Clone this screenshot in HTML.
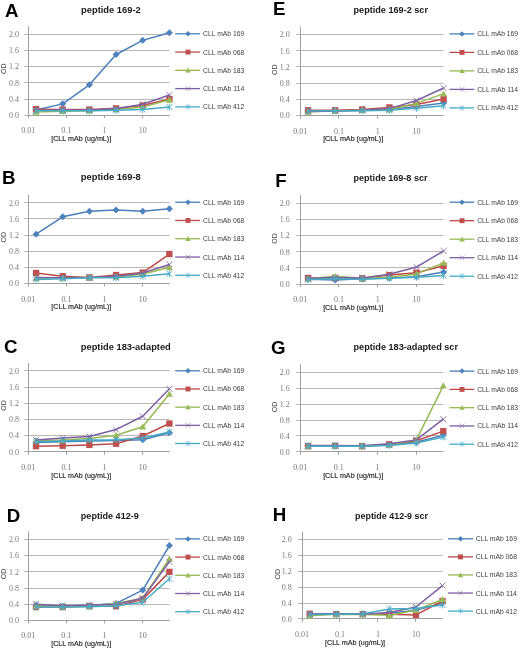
<!DOCTYPE html>
<html><head><meta charset="utf-8"><style>
html,body{margin:0;padding:0;background:#fff;}
body{width:520px;height:648px;overflow:hidden;}
svg{display:block;filter:blur(0.3px);}
.let{font-family:"Liberation Sans",sans-serif;font-weight:bold;font-size:18.7px;fill:#000;}
.ttl{font-family:"Liberation Sans",sans-serif;font-weight:bold;font-size:9px;fill:#1a1a1a;}
.tick{font-family:"Liberation Serif",serif;font-size:8px;fill:#7a7a7a;}
.xt{font-family:"Liberation Sans",sans-serif;font-size:8.0px;fill:#222;stroke:#222;stroke-width:0.15px;}
.leg{font-family:"Liberation Sans",sans-serif;font-size:7.6px;fill:#3c3c3c;}
.od{font-family:"Liberation Sans",sans-serif;font-size:7.4px;fill:#444;}
</style></head><body>
<svg width="520" height="648" viewBox="0 0 520 648">
<rect width="520" height="648" fill="#fff"/>
<text x="5" y="16.9" class="let">A</text>
<text x="81" y="12.9" class="ttl" textLength="59.8" lengthAdjust="spacingAndGlyphs">peptide 169-2</text>
<path d="M24.2 115.5H169.4M24.2 99.5H169.4M24.2 82.5H169.4M24.2 66.5H169.4M24.2 50.5H169.4M24.2 34.5H169.4" stroke="#b8b5b5" stroke-width="1" fill="none"/>
<path d="M28.5 26.21V118.2M28.2 115.5H169.4" stroke="#a0a0a0" stroke-width="1" fill="none"/>
<path d="M66.5 115.2V118.2M104.5 115.2V118.2M142.5 115.2V118.2" stroke="#a0a0a0" stroke-width="1" fill="none"/>
<text x="18.9" y="118" class="tick" text-anchor="end">0.0</text>
<text x="18.9" y="101.82" class="tick" text-anchor="end">0.4</text>
<text x="18.9" y="85.64" class="tick" text-anchor="end">0.8</text>
<text x="18.9" y="69.46" class="tick" text-anchor="end">1.2</text>
<text x="18.9" y="53.28" class="tick" text-anchor="end">1.6</text>
<text x="18.9" y="37.1" class="tick" text-anchor="end">2.0</text>
<text x="28.2" y="133.2" class="tick" text-anchor="middle">0.01</text>
<text x="66.37" y="133.2" class="tick" text-anchor="middle">0.1</text>
<text x="104.55" y="133.2" class="tick" text-anchor="middle">1</text>
<text x="142.72" y="133.2" class="tick" text-anchor="middle">10</text>
<text x="81.2" y="141.1" class="xt" text-anchor="middle" textLength="60" lengthAdjust="spacingAndGlyphs">[CLL mAb (ug/mL)]</text>
<text transform="translate(6.3 68.8) rotate(-90)" class="od" text-anchor="middle" textLength="10.4" lengthAdjust="spacingAndGlyphs">OD</text>
<path d="M35.99 109.94L62.67 103.87L89.36 84.86L116.04 54.52L142.72 40.37L169.4 32.68" stroke="#4a7ebb" stroke-width="1.5" fill="none" stroke-linejoin="round"/>
<path d="M35.99 106.44L39.49 109.94L35.99 113.44L32.49 109.94Z" fill="#4f81bd"/>
<path d="M62.67 100.37L66.17 103.87L62.67 107.37L59.17 103.87Z" fill="#4f81bd"/>
<path d="M89.36 81.36L92.86 84.86L89.36 88.36L85.86 84.86Z" fill="#4f81bd"/>
<path d="M116.04 51.02L119.54 54.52L116.04 58.02L112.54 54.52Z" fill="#4f81bd"/>
<path d="M142.72 36.87L146.22 40.37L142.72 43.87L139.22 40.37Z" fill="#4f81bd"/>
<path d="M169.4 29.18L172.9 32.68L169.4 36.18L165.9 32.68Z" fill="#4f81bd"/>
<path d="M35.99 109.13L62.67 109.54L89.36 109.54L116.04 108.32L142.72 105.49L169.4 99.02" stroke="#be4b48" stroke-width="1.5" fill="none" stroke-linejoin="round"/>
<rect x="32.84" y="105.98" width="6.3" height="6.3" fill="#c0504d"/>
<rect x="59.52" y="106.39" width="6.3" height="6.3" fill="#c0504d"/>
<rect x="86.21" y="106.39" width="6.3" height="6.3" fill="#c0504d"/>
<rect x="112.89" y="105.17" width="6.3" height="6.3" fill="#c0504d"/>
<rect x="139.57" y="102.34" width="6.3" height="6.3" fill="#c0504d"/>
<rect x="166.25" y="95.87" width="6.3" height="6.3" fill="#c0504d"/>
<path d="M35.99 111.96L62.67 111.16L89.36 110.75L116.04 109.54L142.72 107.11L169.4 99.83" stroke="#98b954" stroke-width="1.5" fill="none" stroke-linejoin="round"/>
<path d="M35.99 108.46L39.49 114.76L32.49 114.76Z" fill="#9bbb59"/>
<path d="M62.67 107.66L66.17 113.95L59.17 113.95Z" fill="#9bbb59"/>
<path d="M89.36 107.25L92.86 113.55L85.86 113.55Z" fill="#9bbb59"/>
<path d="M116.04 106.04L119.54 112.34L112.54 112.34Z" fill="#9bbb59"/>
<path d="M142.72 103.61L146.22 109.91L139.22 109.91Z" fill="#9bbb59"/>
<path d="M169.4 96.33L172.9 102.63L165.9 102.63Z" fill="#9bbb59"/>
<path d="M35.99 110.35L62.67 109.94L89.36 109.94L116.04 108.73L142.72 104.28L169.4 94.97" stroke="#7d60a0" stroke-width="1.5" fill="none" stroke-linejoin="round"/>
<path d="M33.02 107.37L38.97 113.32M38.97 107.37L33.02 113.32" stroke="#8064a2" stroke-width="0.9" fill="none"/>
<path d="M59.7 106.97L65.65 112.92M65.65 106.97L59.7 112.92" stroke="#8064a2" stroke-width="0.9" fill="none"/>
<path d="M86.38 106.97L92.33 112.92M92.33 106.97L86.38 112.92" stroke="#8064a2" stroke-width="0.9" fill="none"/>
<path d="M113.06 105.75L119.01 111.7M119.01 105.75L113.06 111.7" stroke="#8064a2" stroke-width="0.9" fill="none"/>
<path d="M139.74 101.3L145.69 107.25M145.69 101.3L139.74 107.25" stroke="#8064a2" stroke-width="0.9" fill="none"/>
<path d="M166.43 92L172.38 97.95M172.38 92L166.43 97.95" stroke="#8064a2" stroke-width="0.9" fill="none"/>
<path d="M35.99 110.75L62.67 110.75L89.36 110.75L116.04 110.35L142.72 109.54L169.4 107.11" stroke="#46aac5" stroke-width="1.5" fill="none" stroke-linejoin="round"/>
<path d="M33.02 107.78L38.97 113.73M38.97 107.78L33.02 113.73M35.99 107.25L35.99 114.25" stroke="#4bacc6" stroke-width="0.9" fill="none"/>
<path d="M59.7 107.78L65.65 113.73M65.65 107.78L59.7 113.73M62.67 107.25L62.67 114.25" stroke="#4bacc6" stroke-width="0.9" fill="none"/>
<path d="M86.38 107.78L92.33 113.73M92.33 107.78L86.38 113.73M89.36 107.25L89.36 114.25" stroke="#4bacc6" stroke-width="0.9" fill="none"/>
<path d="M113.06 107.37L119.01 113.32M119.01 107.37L113.06 113.32M116.04 106.85L116.04 113.85" stroke="#4bacc6" stroke-width="0.9" fill="none"/>
<path d="M139.74 106.56L145.69 112.51M145.69 106.56L139.74 112.51M142.72 106.04L142.72 113.04" stroke="#4bacc6" stroke-width="0.9" fill="none"/>
<path d="M166.43 104.14L172.38 110.08M172.38 104.14L166.43 110.08M169.4 103.61L169.4 110.61" stroke="#4bacc6" stroke-width="0.9" fill="none"/>
<path d="M175.2 33.8H200.1" stroke="#4a7ebb" stroke-width="1.3" fill="none"/>
<path d="M188 31.05L190.75 33.8L188 36.55L185.25 33.8Z" fill="#4f81bd"/>
<text x="203.1" y="36.3" class="leg" textLength="41.1" lengthAdjust="spacingAndGlyphs">CLL mAb 169</text>
<path d="M175.2 52.07H200.1" stroke="#be4b48" stroke-width="1.3" fill="none"/>
<rect x="185.53" y="49.59" width="4.95" height="4.95" fill="#c0504d"/>
<text x="203.1" y="54.57" class="leg" textLength="41.1" lengthAdjust="spacingAndGlyphs">CLL mAb 068</text>
<path d="M175.2 70.34H200.1" stroke="#98b954" stroke-width="1.3" fill="none"/>
<path d="M188 67.59L190.75 72.54L185.25 72.54Z" fill="#9bbb59"/>
<text x="203.1" y="72.84" class="leg" textLength="41.1" lengthAdjust="spacingAndGlyphs">CLL mAb 183</text>
<path d="M175.2 88.61H200.1" stroke="#7d60a0" stroke-width="1.3" fill="none"/>
<path d="M185.66 86.27L190.34 90.95M190.34 86.27L185.66 90.95" stroke="#8064a2" stroke-width="0.6" fill="none"/>
<text x="203.1" y="91.11" class="leg" textLength="41.1" lengthAdjust="spacingAndGlyphs">CLL mAb 114</text>
<path d="M175.2 106.88H200.1" stroke="#46aac5" stroke-width="1.3" fill="none"/>
<path d="M185.66 104.54L190.34 109.22M190.34 104.54L185.66 109.22M188 104.13L188 109.63" stroke="#4bacc6" stroke-width="0.6" fill="none"/>
<text x="203.1" y="109.38" class="leg" textLength="41.1" lengthAdjust="spacingAndGlyphs">CLL mAb 412</text>
<text x="1.9" y="184.4" class="let">B</text>
<text x="80.8" y="180.4" class="ttl" textLength="60" lengthAdjust="spacingAndGlyphs">peptide 169-8</text>
<path d="M24.3 283.5H169.4M24.3 267.5H169.4M24.3 251.5H169.4M24.3 235.5H169.4M24.3 218.5H169.4M24.3 202.5H169.4" stroke="#b8b5b5" stroke-width="1" fill="none"/>
<path d="M28.5 194.62V286.5M28.3 283.5H169.4" stroke="#a0a0a0" stroke-width="1" fill="none"/>
<path d="M66.5 283.5V286.5M104.5 283.5V286.5M142.5 283.5V286.5" stroke="#a0a0a0" stroke-width="1" fill="none"/>
<text x="19" y="286.3" class="tick" text-anchor="end">0.0</text>
<text x="19" y="270.14" class="tick" text-anchor="end">0.4</text>
<text x="19" y="253.98" class="tick" text-anchor="end">0.8</text>
<text x="19" y="237.82" class="tick" text-anchor="end">1.2</text>
<text x="19" y="221.66" class="tick" text-anchor="end">1.6</text>
<text x="19" y="205.5" class="tick" text-anchor="end">2.0</text>
<text x="28.3" y="301.5" class="tick" text-anchor="middle">0.01</text>
<text x="66.45" y="301.5" class="tick" text-anchor="middle">0.1</text>
<text x="104.59" y="301.5" class="tick" text-anchor="middle">1</text>
<text x="142.74" y="301.5" class="tick" text-anchor="middle">10</text>
<text x="81.3" y="309.4" class="xt" text-anchor="middle" textLength="60" lengthAdjust="spacingAndGlyphs">[CLL mAb (ug/mL)]</text>
<text transform="translate(6.4 237.2) rotate(-90)" class="od" text-anchor="middle" textLength="10.4" lengthAdjust="spacingAndGlyphs">OD</text>
<path d="M36.09 234.21L62.75 216.84L89.41 211.18L116.07 209.97L142.74 211.18L169.4 208.76" stroke="#4a7ebb" stroke-width="1.5" fill="none" stroke-linejoin="round"/>
<path d="M36.09 230.71L39.59 234.21L36.09 237.71L32.59 234.21Z" fill="#4f81bd"/>
<path d="M62.75 213.34L66.25 216.84L62.75 220.34L59.25 216.84Z" fill="#4f81bd"/>
<path d="M89.41 207.68L92.91 211.18L89.41 214.68L85.91 211.18Z" fill="#4f81bd"/>
<path d="M116.07 206.47L119.57 209.97L116.07 213.47L112.57 209.97Z" fill="#4f81bd"/>
<path d="M142.74 207.68L146.24 211.18L142.74 214.68L139.24 211.18Z" fill="#4f81bd"/>
<path d="M169.4 205.26L172.9 208.76L169.4 212.26L165.9 208.76Z" fill="#4f81bd"/>
<path d="M36.09 273L62.75 276.23L89.41 277.44L116.07 275.02L142.74 272.59L169.4 254.01" stroke="#be4b48" stroke-width="1.5" fill="none" stroke-linejoin="round"/>
<rect x="32.94" y="269.85" width="6.3" height="6.3" fill="#c0504d"/>
<rect x="59.6" y="273.08" width="6.3" height="6.3" fill="#c0504d"/>
<rect x="86.26" y="274.29" width="6.3" height="6.3" fill="#c0504d"/>
<rect x="112.92" y="271.87" width="6.3" height="6.3" fill="#c0504d"/>
<rect x="139.59" y="269.44" width="6.3" height="6.3" fill="#c0504d"/>
<rect x="166.25" y="250.86" width="6.3" height="6.3" fill="#c0504d"/>
<path d="M36.09 278.25L62.75 277.84L89.41 277.44L116.07 277.04L142.74 274.21L169.4 267.34" stroke="#98b954" stroke-width="1.5" fill="none" stroke-linejoin="round"/>
<path d="M36.09 274.75L39.59 281.05L32.59 281.05Z" fill="#9bbb59"/>
<path d="M62.75 274.34L66.25 280.64L59.25 280.64Z" fill="#9bbb59"/>
<path d="M89.41 273.94L92.91 280.24L85.91 280.24Z" fill="#9bbb59"/>
<path d="M116.07 273.54L119.57 279.84L112.57 279.84Z" fill="#9bbb59"/>
<path d="M142.74 270.71L146.24 277.01L139.24 277.01Z" fill="#9bbb59"/>
<path d="M169.4 263.84L172.9 270.14L165.9 270.14Z" fill="#9bbb59"/>
<path d="M36.09 277.44L62.75 277.84L89.41 277.44L116.07 276.23L142.74 273L169.4 264.51" stroke="#7d60a0" stroke-width="1.5" fill="none" stroke-linejoin="round"/>
<path d="M33.11 274.46L39.06 280.42M39.06 274.46L33.11 280.42" stroke="#8064a2" stroke-width="0.9" fill="none"/>
<path d="M59.77 274.87L65.72 280.82M65.72 274.87L59.77 280.82" stroke="#8064a2" stroke-width="0.9" fill="none"/>
<path d="M86.44 274.46L92.39 280.42M92.39 274.46L86.44 280.42" stroke="#8064a2" stroke-width="0.9" fill="none"/>
<path d="M113.1 273.25L119.05 279.2M119.05 273.25L113.1 279.2" stroke="#8064a2" stroke-width="0.9" fill="none"/>
<path d="M139.76 270.02L145.71 275.97M145.71 270.02L139.76 275.97" stroke="#8064a2" stroke-width="0.9" fill="none"/>
<path d="M166.43 261.54L172.38 267.49M172.38 261.54L166.43 267.49" stroke="#8064a2" stroke-width="0.9" fill="none"/>
<path d="M36.09 279.46L62.75 278.65L89.41 277.84L116.07 277.84L142.74 276.23L169.4 273.8" stroke="#46aac5" stroke-width="1.5" fill="none" stroke-linejoin="round"/>
<path d="M33.11 276.48L39.06 282.44M39.06 276.48L33.11 282.44M36.09 275.96L36.09 282.96" stroke="#4bacc6" stroke-width="0.9" fill="none"/>
<path d="M59.77 275.68L65.72 281.63M65.72 275.68L59.77 281.63M62.75 275.15L62.75 282.15" stroke="#4bacc6" stroke-width="0.9" fill="none"/>
<path d="M86.44 274.87L92.39 280.82M92.39 274.87L86.44 280.82M89.41 274.34L89.41 281.34" stroke="#4bacc6" stroke-width="0.9" fill="none"/>
<path d="M113.1 274.87L119.05 280.82M119.05 274.87L113.1 280.82M116.07 274.34L116.07 281.34" stroke="#4bacc6" stroke-width="0.9" fill="none"/>
<path d="M139.76 273.25L145.71 279.2M145.71 273.25L139.76 279.2M142.74 272.73L142.74 279.73" stroke="#4bacc6" stroke-width="0.9" fill="none"/>
<path d="M166.43 270.83L172.38 276.78M172.38 270.83L166.43 276.78M169.4 270.3L169.4 277.3" stroke="#4bacc6" stroke-width="0.9" fill="none"/>
<path d="M175.2 202.2H200.1" stroke="#4a7ebb" stroke-width="1.3" fill="none"/>
<path d="M188 199.45L190.75 202.2L188 204.95L185.25 202.2Z" fill="#4f81bd"/>
<text x="203.1" y="204.7" class="leg" textLength="41.1" lengthAdjust="spacingAndGlyphs">CLL mAb 169</text>
<path d="M175.2 220.48H200.1" stroke="#be4b48" stroke-width="1.3" fill="none"/>
<rect x="185.53" y="218" width="4.95" height="4.95" fill="#c0504d"/>
<text x="203.1" y="222.98" class="leg" textLength="41.1" lengthAdjust="spacingAndGlyphs">CLL mAb 068</text>
<path d="M175.2 238.76H200.1" stroke="#98b954" stroke-width="1.3" fill="none"/>
<path d="M188 236.01L190.75 240.96L185.25 240.96Z" fill="#9bbb59"/>
<text x="203.1" y="241.26" class="leg" textLength="41.1" lengthAdjust="spacingAndGlyphs">CLL mAb 183</text>
<path d="M175.2 257.04H200.1" stroke="#7d60a0" stroke-width="1.3" fill="none"/>
<path d="M185.66 254.7L190.34 259.38M190.34 254.7L185.66 259.38" stroke="#8064a2" stroke-width="0.6" fill="none"/>
<text x="203.1" y="259.54" class="leg" textLength="41.1" lengthAdjust="spacingAndGlyphs">CLL mAb 114</text>
<path d="M175.2 275.32H200.1" stroke="#46aac5" stroke-width="1.3" fill="none"/>
<path d="M185.66 272.98L190.34 277.66M190.34 272.98L185.66 277.66M188 272.57L188 278.07" stroke="#4bacc6" stroke-width="0.6" fill="none"/>
<text x="203.1" y="277.82" class="leg" textLength="41.1" lengthAdjust="spacingAndGlyphs">CLL mAb 412</text>
<text x="4" y="353.3" class="let">C</text>
<text x="80.8" y="349.7" class="ttl" textLength="90" lengthAdjust="spacingAndGlyphs">peptide 183-adapted</text>
<path d="M24.25 451.5H169.4M24.25 435.5H169.4M24.25 419.5H169.4M24.25 403.5H169.4M24.25 387.5H169.4M24.25 370.5H169.4" stroke="#b8b5b5" stroke-width="1" fill="none"/>
<path d="M28.5 362.92V454.8M28.25 451.5H169.4" stroke="#a0a0a0" stroke-width="1" fill="none"/>
<path d="M66.5 451.8V454.8M104.5 451.8V454.8M142.5 451.8V454.8" stroke="#a0a0a0" stroke-width="1" fill="none"/>
<text x="18.95" y="454.6" class="tick" text-anchor="end">0.0</text>
<text x="18.95" y="438.44" class="tick" text-anchor="end">0.4</text>
<text x="18.95" y="422.28" class="tick" text-anchor="end">0.8</text>
<text x="18.95" y="406.12" class="tick" text-anchor="end">1.2</text>
<text x="18.95" y="389.96" class="tick" text-anchor="end">1.6</text>
<text x="18.95" y="373.8" class="tick" text-anchor="end">2.0</text>
<text x="28.25" y="469.8" class="tick" text-anchor="middle">0.01</text>
<text x="66.41" y="469.8" class="tick" text-anchor="middle">0.1</text>
<text x="104.57" y="469.8" class="tick" text-anchor="middle">1</text>
<text x="142.73" y="469.8" class="tick" text-anchor="middle">10</text>
<text x="81.25" y="477.7" class="xt" text-anchor="middle" textLength="60" lengthAdjust="spacingAndGlyphs">[CLL mAb (ug/mL)]</text>
<text transform="translate(6.35 405.5) rotate(-90)" class="od" text-anchor="middle" textLength="10.4" lengthAdjust="spacingAndGlyphs">OD</text>
<path d="M36.04 442.51L62.71 441.7L89.38 440.89L116.06 440.49L142.73 439.68L169.4 432.81" stroke="#4a7ebb" stroke-width="1.5" fill="none" stroke-linejoin="round"/>
<path d="M36.04 439.01L39.54 442.51L36.04 446.01L32.54 442.51Z" fill="#4f81bd"/>
<path d="M62.71 438.2L66.21 441.7L62.71 445.2L59.21 441.7Z" fill="#4f81bd"/>
<path d="M89.38 437.39L92.88 440.89L89.38 444.39L85.88 440.89Z" fill="#4f81bd"/>
<path d="M116.06 436.99L119.56 440.49L116.06 443.99L112.56 440.49Z" fill="#4f81bd"/>
<path d="M142.73 436.18L146.23 439.68L142.73 443.18L139.23 439.68Z" fill="#4f81bd"/>
<path d="M169.4 429.31L172.9 432.81L169.4 436.31L165.9 432.81Z" fill="#4f81bd"/>
<path d="M36.04 446.14L62.71 445.74L89.38 444.93L116.06 443.72L142.73 436.04L169.4 423.52" stroke="#be4b48" stroke-width="1.5" fill="none" stroke-linejoin="round"/>
<rect x="32.89" y="442.99" width="6.3" height="6.3" fill="#c0504d"/>
<rect x="59.56" y="442.59" width="6.3" height="6.3" fill="#c0504d"/>
<rect x="86.23" y="441.78" width="6.3" height="6.3" fill="#c0504d"/>
<rect x="112.91" y="440.57" width="6.3" height="6.3" fill="#c0504d"/>
<rect x="139.58" y="432.89" width="6.3" height="6.3" fill="#c0504d"/>
<rect x="166.25" y="420.37" width="6.3" height="6.3" fill="#c0504d"/>
<path d="M36.04 440.49L62.71 440.08L89.38 438.47L116.06 435.24L142.73 426.75L169.4 394.03" stroke="#98b954" stroke-width="1.5" fill="none" stroke-linejoin="round"/>
<path d="M36.04 436.99L39.54 443.29L32.54 443.29Z" fill="#9bbb59"/>
<path d="M62.71 436.58L66.21 442.88L59.21 442.88Z" fill="#9bbb59"/>
<path d="M89.38 434.97L92.88 441.27L85.88 441.27Z" fill="#9bbb59"/>
<path d="M116.06 431.74L119.56 438.04L112.56 438.04Z" fill="#9bbb59"/>
<path d="M142.73 423.25L146.23 429.55L139.23 429.55Z" fill="#9bbb59"/>
<path d="M169.4 390.53L172.9 396.83L165.9 396.83Z" fill="#9bbb59"/>
<path d="M36.04 440.08L62.71 438.06L89.38 436.45L116.06 429.58L142.73 416.25L169.4 388.78" stroke="#7d60a0" stroke-width="1.5" fill="none" stroke-linejoin="round"/>
<path d="M33.06 437.11L39.01 443.06M39.01 437.11L33.06 443.06" stroke="#8064a2" stroke-width="0.9" fill="none"/>
<path d="M59.74 435.09L65.69 441.04M65.69 435.09L59.74 441.04" stroke="#8064a2" stroke-width="0.9" fill="none"/>
<path d="M86.41 433.47L92.36 439.42M92.36 433.47L86.41 439.42" stroke="#8064a2" stroke-width="0.9" fill="none"/>
<path d="M113.08 426.6L119.03 432.56M119.03 426.6L113.08 432.56" stroke="#8064a2" stroke-width="0.9" fill="none"/>
<path d="M139.75 413.27L145.7 419.22M145.7 413.27L139.75 419.22" stroke="#8064a2" stroke-width="0.9" fill="none"/>
<path d="M166.43 385.8L172.38 391.75M172.38 385.8L166.43 391.75" stroke="#8064a2" stroke-width="0.9" fill="none"/>
<path d="M36.04 441.7L62.71 440.89L89.38 440.08L116.06 439.68L142.73 438.06L169.4 432" stroke="#46aac5" stroke-width="1.5" fill="none" stroke-linejoin="round"/>
<path d="M33.06 438.72L39.01 444.68M39.01 438.72L33.06 444.68M36.04 438.2L36.04 445.2" stroke="#4bacc6" stroke-width="0.9" fill="none"/>
<path d="M59.74 437.92L65.69 443.87M65.69 437.92L59.74 443.87M62.71 437.39L62.71 444.39" stroke="#4bacc6" stroke-width="0.9" fill="none"/>
<path d="M86.41 437.11L92.36 443.06M92.36 437.11L86.41 443.06M89.38 436.58L89.38 443.58" stroke="#4bacc6" stroke-width="0.9" fill="none"/>
<path d="M113.08 436.7L119.03 442.66M119.03 436.7L113.08 442.66M116.06 436.18L116.06 443.18" stroke="#4bacc6" stroke-width="0.9" fill="none"/>
<path d="M139.75 435.09L145.7 441.04M145.7 435.09L139.75 441.04M142.73 434.56L142.73 441.56" stroke="#4bacc6" stroke-width="0.9" fill="none"/>
<path d="M166.43 429.03L172.38 434.98M172.38 429.03L166.43 434.98M169.4 428.5L169.4 435.5" stroke="#4bacc6" stroke-width="0.9" fill="none"/>
<path d="M175.2 370.8H200.1" stroke="#4a7ebb" stroke-width="1.3" fill="none"/>
<path d="M188 368.05L190.75 370.8L188 373.55L185.25 370.8Z" fill="#4f81bd"/>
<text x="203.1" y="373.3" class="leg" textLength="41.1" lengthAdjust="spacingAndGlyphs">CLL mAb 169</text>
<path d="M175.2 388.98H200.1" stroke="#be4b48" stroke-width="1.3" fill="none"/>
<rect x="185.53" y="386.5" width="4.95" height="4.95" fill="#c0504d"/>
<text x="203.1" y="391.48" class="leg" textLength="41.1" lengthAdjust="spacingAndGlyphs">CLL mAb 068</text>
<path d="M175.2 407.16H200.1" stroke="#98b954" stroke-width="1.3" fill="none"/>
<path d="M188 404.41L190.75 409.36L185.25 409.36Z" fill="#9bbb59"/>
<text x="203.1" y="409.66" class="leg" textLength="41.1" lengthAdjust="spacingAndGlyphs">CLL mAb 183</text>
<path d="M175.2 425.34H200.1" stroke="#7d60a0" stroke-width="1.3" fill="none"/>
<path d="M185.66 423L190.34 427.68M190.34 423L185.66 427.68" stroke="#8064a2" stroke-width="0.6" fill="none"/>
<text x="203.1" y="427.84" class="leg" textLength="41.1" lengthAdjust="spacingAndGlyphs">CLL mAb 114</text>
<path d="M175.2 443.52H200.1" stroke="#46aac5" stroke-width="1.3" fill="none"/>
<path d="M185.66 441.18L190.34 445.86M190.34 441.18L185.66 445.86M188 440.77L188 446.27" stroke="#4bacc6" stroke-width="0.6" fill="none"/>
<text x="203.1" y="446.02" class="leg" textLength="41.1" lengthAdjust="spacingAndGlyphs">CLL mAb 412</text>
<text x="6.8" y="522.3" class="let">D</text>
<text x="80.8" y="519.4" class="ttl" textLength="58" lengthAdjust="spacingAndGlyphs">peptide 412-9</text>
<path d="M24.2 620.5H169.4M24.2 604.5H169.4M24.2 588.5H169.4M24.2 571.5H169.4M24.2 555.5H169.4M24.2 539.5H169.4" stroke="#b8b5b5" stroke-width="1" fill="none"/>
<path d="M28.5 531.41V623.4M28.2 620.5H169.4" stroke="#a0a0a0" stroke-width="1" fill="none"/>
<path d="M66.5 620.4V623.4M104.5 620.4V623.4M142.5 620.4V623.4" stroke="#a0a0a0" stroke-width="1" fill="none"/>
<text x="18.9" y="623.2" class="tick" text-anchor="end">0.0</text>
<text x="18.9" y="607.02" class="tick" text-anchor="end">0.4</text>
<text x="18.9" y="590.84" class="tick" text-anchor="end">0.8</text>
<text x="18.9" y="574.66" class="tick" text-anchor="end">1.2</text>
<text x="18.9" y="558.48" class="tick" text-anchor="end">1.6</text>
<text x="18.9" y="542.3" class="tick" text-anchor="end">2.0</text>
<text x="28.2" y="638.4" class="tick" text-anchor="middle">0.01</text>
<text x="66.37" y="638.4" class="tick" text-anchor="middle">0.1</text>
<text x="104.55" y="638.4" class="tick" text-anchor="middle">1</text>
<text x="142.72" y="638.4" class="tick" text-anchor="middle">10</text>
<text x="81.2" y="646.3" class="xt" text-anchor="middle" textLength="60" lengthAdjust="spacingAndGlyphs">[CLL mAb (ug/mL)]</text>
<text transform="translate(6.3 574) rotate(-90)" class="od" text-anchor="middle" textLength="10.4" lengthAdjust="spacingAndGlyphs">OD</text>
<path d="M35.99 605.03L62.67 606.24L89.36 605.43L116.04 603.41L142.72 590.06L169.4 545.57" stroke="#4a7ebb" stroke-width="1.5" fill="none" stroke-linejoin="round"/>
<path d="M35.99 601.53L39.49 605.03L35.99 608.53L32.49 605.03Z" fill="#4f81bd"/>
<path d="M62.67 602.74L66.17 606.24L62.67 609.74L59.17 606.24Z" fill="#4f81bd"/>
<path d="M89.36 601.93L92.86 605.43L89.36 608.93L85.86 605.43Z" fill="#4f81bd"/>
<path d="M116.04 599.91L119.54 603.41L116.04 606.91L112.54 603.41Z" fill="#4f81bd"/>
<path d="M142.72 586.56L146.22 590.06L142.72 593.56L139.22 590.06Z" fill="#4f81bd"/>
<path d="M169.4 542.07L172.9 545.57L169.4 549.07L165.9 545.57Z" fill="#4f81bd"/>
<path d="M35.99 607.05L62.67 607.05L89.36 606.24L116.04 606.24L142.72 599.37L169.4 571.86" stroke="#be4b48" stroke-width="1.5" fill="none" stroke-linejoin="round"/>
<rect x="32.84" y="603.9" width="6.3" height="6.3" fill="#c0504d"/>
<rect x="59.52" y="603.9" width="6.3" height="6.3" fill="#c0504d"/>
<rect x="86.21" y="603.09" width="6.3" height="6.3" fill="#c0504d"/>
<rect x="112.89" y="603.09" width="6.3" height="6.3" fill="#c0504d"/>
<rect x="139.57" y="596.22" width="6.3" height="6.3" fill="#c0504d"/>
<rect x="166.25" y="568.71" width="6.3" height="6.3" fill="#c0504d"/>
<path d="M35.99 605.84L62.67 606.65L89.36 605.84L116.04 603.41L142.72 598.15L169.4 558.92" stroke="#98b954" stroke-width="1.5" fill="none" stroke-linejoin="round"/>
<path d="M35.99 602.34L39.49 608.64L32.49 608.64Z" fill="#9bbb59"/>
<path d="M62.67 603.15L66.17 609.45L59.17 609.45Z" fill="#9bbb59"/>
<path d="M89.36 602.34L92.86 608.64L85.86 608.64Z" fill="#9bbb59"/>
<path d="M116.04 599.91L119.54 606.21L112.54 606.21Z" fill="#9bbb59"/>
<path d="M142.72 594.65L146.22 600.95L139.22 600.95Z" fill="#9bbb59"/>
<path d="M169.4 555.42L172.9 561.72L165.9 561.72Z" fill="#9bbb59"/>
<path d="M35.99 604.22L62.67 605.84L89.36 605.03L116.04 604.22L142.72 598.15L169.4 561.75" stroke="#7d60a0" stroke-width="1.5" fill="none" stroke-linejoin="round"/>
<path d="M33.02 601.25L38.97 607.2M38.97 601.25L33.02 607.2" stroke="#8064a2" stroke-width="0.9" fill="none"/>
<path d="M59.7 602.86L65.65 608.81M65.65 602.86L59.7 608.81" stroke="#8064a2" stroke-width="0.9" fill="none"/>
<path d="M86.38 602.05L92.33 608M92.33 602.05L86.38 608" stroke="#8064a2" stroke-width="0.9" fill="none"/>
<path d="M113.06 601.25L119.01 607.2M119.01 601.25L113.06 607.2" stroke="#8064a2" stroke-width="0.9" fill="none"/>
<path d="M139.74 595.18L145.69 601.13M145.69 595.18L139.74 601.13" stroke="#8064a2" stroke-width="0.9" fill="none"/>
<path d="M166.43 558.77L172.38 564.72M172.38 558.77L166.43 564.72" stroke="#8064a2" stroke-width="0.9" fill="none"/>
<path d="M35.99 607.05L62.67 607.05L89.36 606.65L116.04 605.84L142.72 602.2L169.4 578.74" stroke="#46aac5" stroke-width="1.5" fill="none" stroke-linejoin="round"/>
<path d="M33.02 604.08L38.97 610.03M38.97 604.08L33.02 610.03M35.99 603.55L35.99 610.55" stroke="#4bacc6" stroke-width="0.9" fill="none"/>
<path d="M59.7 604.08L65.65 610.03M65.65 604.08L59.7 610.03M62.67 603.55L62.67 610.55" stroke="#4bacc6" stroke-width="0.9" fill="none"/>
<path d="M86.38 603.67L92.33 609.62M92.33 603.67L86.38 609.62M89.36 603.15L89.36 610.15" stroke="#4bacc6" stroke-width="0.9" fill="none"/>
<path d="M113.06 602.86L119.01 608.81M119.01 602.86L113.06 608.81M116.04 602.34L116.04 609.34" stroke="#4bacc6" stroke-width="0.9" fill="none"/>
<path d="M139.74 599.22L145.69 605.17M145.69 599.22L139.74 605.17M142.72 598.7L142.72 605.7" stroke="#4bacc6" stroke-width="0.9" fill="none"/>
<path d="M166.43 575.76L172.38 581.71M172.38 575.76L166.43 581.71M169.4 575.24L169.4 582.24" stroke="#4bacc6" stroke-width="0.9" fill="none"/>
<path d="M175.2 538.9H200.1" stroke="#4a7ebb" stroke-width="1.3" fill="none"/>
<path d="M188 536.15L190.75 538.9L188 541.65L185.25 538.9Z" fill="#4f81bd"/>
<text x="203.1" y="541.4" class="leg" textLength="41.1" lengthAdjust="spacingAndGlyphs">CLL mAb 169</text>
<path d="M175.2 557.1H200.1" stroke="#be4b48" stroke-width="1.3" fill="none"/>
<rect x="185.53" y="554.62" width="4.95" height="4.95" fill="#c0504d"/>
<text x="203.1" y="559.6" class="leg" textLength="41.1" lengthAdjust="spacingAndGlyphs">CLL mAb 068</text>
<path d="M175.2 575.3H200.1" stroke="#98b954" stroke-width="1.3" fill="none"/>
<path d="M188 572.55L190.75 577.5L185.25 577.5Z" fill="#9bbb59"/>
<text x="203.1" y="577.8" class="leg" textLength="41.1" lengthAdjust="spacingAndGlyphs">CLL mAb 183</text>
<path d="M175.2 593.5H200.1" stroke="#7d60a0" stroke-width="1.3" fill="none"/>
<path d="M185.66 591.16L190.34 595.84M190.34 591.16L185.66 595.84" stroke="#8064a2" stroke-width="0.6" fill="none"/>
<text x="203.1" y="596" class="leg" textLength="41.1" lengthAdjust="spacingAndGlyphs">CLL mAb 114</text>
<path d="M175.2 611.7H200.1" stroke="#46aac5" stroke-width="1.3" fill="none"/>
<path d="M185.66 609.36L190.34 614.04M190.34 609.36L185.66 614.04M188 608.95L188 614.45" stroke="#4bacc6" stroke-width="0.6" fill="none"/>
<text x="203.1" y="614.2" class="leg" textLength="41.1" lengthAdjust="spacingAndGlyphs">CLL mAb 412</text>
<text x="273" y="14.6" class="let">E</text>
<text x="353.5" y="13.4" class="ttl" textLength="74.5" lengthAdjust="spacingAndGlyphs">peptide 169-2 scr</text>
<path d="M296.15 115.5H443.6M296.15 99.5H443.6M296.15 83.5H443.6M296.15 66.5H443.6M296.15 50.5H443.6M296.15 34.5H443.6" stroke="#b8b5b5" stroke-width="1" fill="none"/>
<path d="M300.5 26.51V118.5M300.15 115.5H443.6" stroke="#a0a0a0" stroke-width="1" fill="none"/>
<path d="M338.5 115.5V118.5M377.5 115.5V118.5M416.5 115.5V118.5" stroke="#a0a0a0" stroke-width="1" fill="none"/>
<text x="289.65" y="118.3" class="tick" text-anchor="end">0.0</text>
<text x="289.65" y="102.12" class="tick" text-anchor="end">0.4</text>
<text x="289.65" y="85.94" class="tick" text-anchor="end">0.8</text>
<text x="289.65" y="69.76" class="tick" text-anchor="end">1.2</text>
<text x="289.65" y="53.58" class="tick" text-anchor="end">1.6</text>
<text x="289.65" y="37.4" class="tick" text-anchor="end">2.0</text>
<text x="300.15" y="133.5" class="tick" text-anchor="middle">0.01</text>
<text x="338.93" y="133.5" class="tick" text-anchor="middle">0.1</text>
<text x="377.71" y="133.5" class="tick" text-anchor="middle">1</text>
<text x="416.49" y="133.5" class="tick" text-anchor="middle">10</text>
<text x="353.15" y="141.4" class="xt" text-anchor="middle" textLength="60" lengthAdjust="spacingAndGlyphs">[CLL mAb (ug/mL)]</text>
<text transform="translate(277.45 69.8) rotate(-90)" class="od" text-anchor="middle" textLength="10.4" lengthAdjust="spacingAndGlyphs">OD</text>
<path d="M308.07 110.65L335.17 110.65L362.28 110.24L389.39 109.43L416.49 106.6L443.6 102.96" stroke="#4a7ebb" stroke-width="1.5" fill="none" stroke-linejoin="round"/>
<path d="M308.07 107.15L311.57 110.65L308.07 114.15L304.57 110.65Z" fill="#4f81bd"/>
<path d="M335.17 107.15L338.67 110.65L335.17 114.15L331.67 110.65Z" fill="#4f81bd"/>
<path d="M362.28 106.74L365.78 110.24L362.28 113.74L358.78 110.24Z" fill="#4f81bd"/>
<path d="M389.39 105.93L392.89 109.43L389.39 112.93L385.89 109.43Z" fill="#4f81bd"/>
<path d="M416.49 103.1L419.99 106.6L416.49 110.1L412.99 106.6Z" fill="#4f81bd"/>
<path d="M443.6 99.46L447.1 102.96L443.6 106.46L440.1 102.96Z" fill="#4f81bd"/>
<path d="M308.07 110.24L335.17 110.24L362.28 109.43L389.39 107.41L416.49 104.58L443.6 98.92" stroke="#be4b48" stroke-width="1.5" fill="none" stroke-linejoin="round"/>
<rect x="304.92" y="107.09" width="6.3" height="6.3" fill="#c0504d"/>
<rect x="332.02" y="107.09" width="6.3" height="6.3" fill="#c0504d"/>
<rect x="359.13" y="106.28" width="6.3" height="6.3" fill="#c0504d"/>
<rect x="386.24" y="104.26" width="6.3" height="6.3" fill="#c0504d"/>
<rect x="413.34" y="101.43" width="6.3" height="6.3" fill="#c0504d"/>
<rect x="440.45" y="95.77" width="6.3" height="6.3" fill="#c0504d"/>
<path d="M308.07 111.86L335.17 111.05L362.28 110.24L389.39 109.43L416.49 103.36L443.6 93.66" stroke="#98b954" stroke-width="1.5" fill="none" stroke-linejoin="round"/>
<path d="M308.07 108.36L311.57 114.66L304.57 114.66Z" fill="#9bbb59"/>
<path d="M335.17 107.55L338.67 113.85L331.67 113.85Z" fill="#9bbb59"/>
<path d="M362.28 106.74L365.78 113.04L358.78 113.04Z" fill="#9bbb59"/>
<path d="M389.39 105.93L392.89 112.23L385.89 112.23Z" fill="#9bbb59"/>
<path d="M416.49 99.86L419.99 106.16L412.99 106.16Z" fill="#9bbb59"/>
<path d="M443.6 90.16L447.1 96.46L440.1 96.46Z" fill="#9bbb59"/>
<path d="M308.07 111.45L335.17 111.05L362.28 110.24L389.39 108.62L416.49 100.53L443.6 87.99" stroke="#7d60a0" stroke-width="1.5" fill="none" stroke-linejoin="round"/>
<path d="M305.09 108.48L311.04 114.43M311.04 108.48L305.09 114.43" stroke="#8064a2" stroke-width="0.9" fill="none"/>
<path d="M332.2 108.08L338.15 114.03M338.15 108.08L332.2 114.03" stroke="#8064a2" stroke-width="0.9" fill="none"/>
<path d="M359.3 107.27L365.25 113.22M365.25 107.27L359.3 113.22" stroke="#8064a2" stroke-width="0.9" fill="none"/>
<path d="M386.41 105.65L392.36 111.6M392.36 105.65L386.41 111.6" stroke="#8064a2" stroke-width="0.9" fill="none"/>
<path d="M413.52 97.56L419.47 103.51M419.47 97.56L413.52 103.51" stroke="#8064a2" stroke-width="0.9" fill="none"/>
<path d="M440.62 85.02L446.58 90.97M446.58 85.02L440.62 90.97" stroke="#8064a2" stroke-width="0.9" fill="none"/>
<path d="M308.07 111.05L335.17 110.65L362.28 110.65L389.39 110.24L416.49 108.22L443.6 105.79" stroke="#46aac5" stroke-width="1.5" fill="none" stroke-linejoin="round"/>
<path d="M305.09 108.08L311.04 114.03M311.04 108.08L305.09 114.03M308.07 107.55L308.07 114.55" stroke="#4bacc6" stroke-width="0.9" fill="none"/>
<path d="M332.2 107.67L338.15 113.62M338.15 107.67L332.2 113.62M335.17 107.15L335.17 114.15" stroke="#4bacc6" stroke-width="0.9" fill="none"/>
<path d="M359.3 107.67L365.25 113.62M365.25 107.67L359.3 113.62M362.28 107.15L362.28 114.15" stroke="#4bacc6" stroke-width="0.9" fill="none"/>
<path d="M386.41 107.27L392.36 113.22M392.36 107.27L386.41 113.22M389.39 106.74L389.39 113.74" stroke="#4bacc6" stroke-width="0.9" fill="none"/>
<path d="M413.52 105.24L419.47 111.19M419.47 105.24L413.52 111.19M416.49 104.72L416.49 111.72" stroke="#4bacc6" stroke-width="0.9" fill="none"/>
<path d="M440.62 102.82L446.58 108.77M446.58 102.82L440.62 108.77M443.6 102.29L443.6 109.29" stroke="#4bacc6" stroke-width="0.9" fill="none"/>
<path d="M449.5 33.9H474.3" stroke="#4a7ebb" stroke-width="1.3" fill="none"/>
<path d="M462 31.15L464.75 33.9L462 36.65L459.25 33.9Z" fill="#4f81bd"/>
<text x="477.2" y="36.4" class="leg" textLength="40.9" lengthAdjust="spacingAndGlyphs">CLL mAb 169</text>
<path d="M449.5 52.4H474.3" stroke="#be4b48" stroke-width="1.3" fill="none"/>
<rect x="459.52" y="49.92" width="4.95" height="4.95" fill="#c0504d"/>
<text x="477.2" y="54.9" class="leg" textLength="40.9" lengthAdjust="spacingAndGlyphs">CLL mAb 068</text>
<path d="M449.5 70.9H474.3" stroke="#98b954" stroke-width="1.3" fill="none"/>
<path d="M462 68.15L464.75 73.1L459.25 73.1Z" fill="#9bbb59"/>
<text x="477.2" y="73.4" class="leg" textLength="40.9" lengthAdjust="spacingAndGlyphs">CLL mAb 183</text>
<path d="M449.5 89.4H474.3" stroke="#7d60a0" stroke-width="1.3" fill="none"/>
<path d="M459.66 87.06L464.34 91.74M464.34 87.06L459.66 91.74" stroke="#8064a2" stroke-width="0.6" fill="none"/>
<text x="477.2" y="91.9" class="leg" textLength="40.9" lengthAdjust="spacingAndGlyphs">CLL mAb 114</text>
<path d="M449.5 107.9H474.3" stroke="#46aac5" stroke-width="1.3" fill="none"/>
<path d="M459.66 105.56L464.34 110.24M464.34 105.56L459.66 110.24M462 105.15L462 110.65" stroke="#4bacc6" stroke-width="0.6" fill="none"/>
<text x="477.2" y="110.4" class="leg" textLength="40.9" lengthAdjust="spacingAndGlyphs">CLL mAb 412</text>
<text x="275.2" y="187.1" class="let">F</text>
<text x="353.5" y="181.3" class="ttl" textLength="74" lengthAdjust="spacingAndGlyphs">peptide 169-8 scr</text>
<path d="M296.15 284.5H443.6M296.15 267.5H443.6M296.15 251.5H443.6M296.15 235.5H443.6M296.15 219.5H443.6M296.15 203.5H443.6" stroke="#b8b5b5" stroke-width="1" fill="none"/>
<path d="M300.5 195.23V287M300.15 284.5H443.6" stroke="#a0a0a0" stroke-width="1" fill="none"/>
<path d="M338.5 284V287M377.5 284V287M416.5 284V287" stroke="#a0a0a0" stroke-width="1" fill="none"/>
<text x="289.65" y="286.8" class="tick" text-anchor="end">0.0</text>
<text x="289.65" y="270.66" class="tick" text-anchor="end">0.4</text>
<text x="289.65" y="254.52" class="tick" text-anchor="end">0.8</text>
<text x="289.65" y="238.38" class="tick" text-anchor="end">1.2</text>
<text x="289.65" y="222.24" class="tick" text-anchor="end">1.6</text>
<text x="289.65" y="206.1" class="tick" text-anchor="end">2.0</text>
<text x="300.15" y="302" class="tick" text-anchor="middle">0.01</text>
<text x="338.93" y="302" class="tick" text-anchor="middle">0.1</text>
<text x="377.71" y="302" class="tick" text-anchor="middle">1</text>
<text x="416.49" y="302" class="tick" text-anchor="middle">10</text>
<text x="353.15" y="309.9" class="xt" text-anchor="middle" textLength="60" lengthAdjust="spacingAndGlyphs">[CLL mAb (ug/mL)]</text>
<text transform="translate(277.45 238.5) rotate(-90)" class="od" text-anchor="middle" textLength="10.4" lengthAdjust="spacingAndGlyphs">OD</text>
<path d="M308.07 279.16L335.17 279.96L362.28 278.75L389.39 277.95L416.49 276.74L443.6 271.89" stroke="#4a7ebb" stroke-width="1.5" fill="none" stroke-linejoin="round"/>
<path d="M308.07 275.66L311.57 279.16L308.07 282.66L304.57 279.16Z" fill="#4f81bd"/>
<path d="M335.17 276.46L338.67 279.96L335.17 283.46L331.67 279.96Z" fill="#4f81bd"/>
<path d="M362.28 275.25L365.78 278.75L362.28 282.25L358.78 278.75Z" fill="#4f81bd"/>
<path d="M389.39 274.45L392.89 277.95L389.39 281.45L385.89 277.95Z" fill="#4f81bd"/>
<path d="M416.49 273.24L419.99 276.74L416.49 280.24L412.99 276.74Z" fill="#4f81bd"/>
<path d="M443.6 268.39L447.1 271.89L443.6 275.39L440.1 271.89Z" fill="#4f81bd"/>
<path d="M308.07 277.95L335.17 277.95L362.28 278.35L389.39 275.12L416.49 272.7L443.6 265.84" stroke="#be4b48" stroke-width="1.5" fill="none" stroke-linejoin="round"/>
<rect x="304.92" y="274.8" width="6.3" height="6.3" fill="#c0504d"/>
<rect x="332.02" y="274.8" width="6.3" height="6.3" fill="#c0504d"/>
<rect x="359.13" y="275.2" width="6.3" height="6.3" fill="#c0504d"/>
<rect x="386.24" y="271.97" width="6.3" height="6.3" fill="#c0504d"/>
<rect x="413.34" y="269.55" width="6.3" height="6.3" fill="#c0504d"/>
<rect x="440.45" y="262.69" width="6.3" height="6.3" fill="#c0504d"/>
<path d="M308.07 278.75L335.17 276.33L362.28 278.35L389.39 277.14L416.49 273.91L443.6 263.02" stroke="#98b954" stroke-width="1.5" fill="none" stroke-linejoin="round"/>
<path d="M308.07 275.25L311.57 281.55L304.57 281.55Z" fill="#9bbb59"/>
<path d="M335.17 272.83L338.67 279.13L331.67 279.13Z" fill="#9bbb59"/>
<path d="M362.28 274.85L365.78 281.15L358.78 281.15Z" fill="#9bbb59"/>
<path d="M389.39 273.64L392.89 279.94L385.89 279.94Z" fill="#9bbb59"/>
<path d="M416.49 270.41L419.99 276.71L412.99 276.71Z" fill="#9bbb59"/>
<path d="M443.6 259.52L447.1 265.82L440.1 265.82Z" fill="#9bbb59"/>
<path d="M308.07 278.35L335.17 277.54L362.28 277.95L389.39 274.32L416.49 267.05L443.6 250.91" stroke="#7d60a0" stroke-width="1.5" fill="none" stroke-linejoin="round"/>
<path d="M305.09 275.38L311.04 281.33M311.04 275.38L305.09 281.33" stroke="#8064a2" stroke-width="0.9" fill="none"/>
<path d="M332.2 274.57L338.15 280.52M338.15 274.57L332.2 280.52" stroke="#8064a2" stroke-width="0.9" fill="none"/>
<path d="M359.3 274.97L365.25 280.92M365.25 274.97L359.3 280.92" stroke="#8064a2" stroke-width="0.9" fill="none"/>
<path d="M386.41 271.34L392.36 277.29M392.36 271.34L386.41 277.29" stroke="#8064a2" stroke-width="0.9" fill="none"/>
<path d="M413.52 264.08L419.47 270.03M419.47 264.08L413.52 270.03" stroke="#8064a2" stroke-width="0.9" fill="none"/>
<path d="M440.62 247.94L446.58 253.89M446.58 247.94L440.62 253.89" stroke="#8064a2" stroke-width="0.9" fill="none"/>
<path d="M308.07 279.56L335.17 278.75L362.28 279.16L389.39 278.35L416.49 277.14L443.6 275.53" stroke="#46aac5" stroke-width="1.5" fill="none" stroke-linejoin="round"/>
<path d="M305.09 276.59L311.04 282.54M311.04 276.59L305.09 282.54M308.07 276.06L308.07 283.06" stroke="#4bacc6" stroke-width="0.9" fill="none"/>
<path d="M332.2 275.78L338.15 281.73M338.15 275.78L332.2 281.73M335.17 275.25L335.17 282.25" stroke="#4bacc6" stroke-width="0.9" fill="none"/>
<path d="M359.3 276.18L365.25 282.13M365.25 276.18L359.3 282.13M362.28 275.66L362.28 282.66" stroke="#4bacc6" stroke-width="0.9" fill="none"/>
<path d="M386.41 275.38L392.36 281.33M392.36 275.38L386.41 281.33M389.39 274.85L389.39 281.85" stroke="#4bacc6" stroke-width="0.9" fill="none"/>
<path d="M413.52 274.17L419.47 280.12M419.47 274.17L413.52 280.12M416.49 273.64L416.49 280.64" stroke="#4bacc6" stroke-width="0.9" fill="none"/>
<path d="M440.62 272.55L446.58 278.5M446.58 272.55L440.62 278.5M443.6 272.03L443.6 279.03" stroke="#4bacc6" stroke-width="0.9" fill="none"/>
<path d="M449.5 202.2H474.3" stroke="#4a7ebb" stroke-width="1.3" fill="none"/>
<path d="M462 199.45L464.75 202.2L462 204.95L459.25 202.2Z" fill="#4f81bd"/>
<text x="477.2" y="204.7" class="leg" textLength="40.9" lengthAdjust="spacingAndGlyphs">CLL mAb 169</text>
<path d="M449.5 220.7H474.3" stroke="#be4b48" stroke-width="1.3" fill="none"/>
<rect x="459.52" y="218.22" width="4.95" height="4.95" fill="#c0504d"/>
<text x="477.2" y="223.2" class="leg" textLength="40.9" lengthAdjust="spacingAndGlyphs">CLL mAb 068</text>
<path d="M449.5 239.2H474.3" stroke="#98b954" stroke-width="1.3" fill="none"/>
<path d="M462 236.45L464.75 241.4L459.25 241.4Z" fill="#9bbb59"/>
<text x="477.2" y="241.7" class="leg" textLength="40.9" lengthAdjust="spacingAndGlyphs">CLL mAb 183</text>
<path d="M449.5 257.7H474.3" stroke="#7d60a0" stroke-width="1.3" fill="none"/>
<path d="M459.66 255.36L464.34 260.04M464.34 255.36L459.66 260.04" stroke="#8064a2" stroke-width="0.6" fill="none"/>
<text x="477.2" y="260.2" class="leg" textLength="40.9" lengthAdjust="spacingAndGlyphs">CLL mAb 114</text>
<path d="M449.5 276.2H474.3" stroke="#46aac5" stroke-width="1.3" fill="none"/>
<path d="M459.66 273.86L464.34 278.54M464.34 273.86L459.66 278.54M462 273.45L462 278.95" stroke="#4bacc6" stroke-width="0.6" fill="none"/>
<text x="477.2" y="278.7" class="leg" textLength="40.9" lengthAdjust="spacingAndGlyphs">CLL mAb 412</text>
<text x="271.1" y="354" class="let">G</text>
<text x="353.5" y="350.3" class="ttl" textLength="104.5" lengthAdjust="spacingAndGlyphs">peptide 183-adapted scr</text>
<path d="M296.15 451.5H443.3M296.15 435.5H443.3M296.15 420.5H443.3M296.15 404.5H443.3M296.15 388.5H443.3M296.15 372.5H443.3" stroke="#b8b5b5" stroke-width="1" fill="none"/>
<path d="M300.5 364.35V454.8M300.15 451.5H443.3" stroke="#a0a0a0" stroke-width="1" fill="none"/>
<path d="M338.5 451.8V454.8M377.5 451.8V454.8M416.5 451.8V454.8" stroke="#a0a0a0" stroke-width="1" fill="none"/>
<text x="289.65" y="454.6" class="tick" text-anchor="end">0.0</text>
<text x="289.65" y="438.7" class="tick" text-anchor="end">0.4</text>
<text x="289.65" y="422.8" class="tick" text-anchor="end">0.8</text>
<text x="289.65" y="406.9" class="tick" text-anchor="end">1.2</text>
<text x="289.65" y="391" class="tick" text-anchor="end">1.6</text>
<text x="289.65" y="375.1" class="tick" text-anchor="end">2.0</text>
<text x="300.15" y="469.8" class="tick" text-anchor="middle">0.01</text>
<text x="338.85" y="469.8" class="tick" text-anchor="middle">0.1</text>
<text x="377.55" y="469.8" class="tick" text-anchor="middle">1</text>
<text x="416.25" y="469.8" class="tick" text-anchor="middle">10</text>
<text x="353.15" y="477.7" class="xt" text-anchor="middle" textLength="60" lengthAdjust="spacingAndGlyphs">[CLL mAb (ug/mL)]</text>
<text transform="translate(277.45 407) rotate(-90)" class="od" text-anchor="middle" textLength="10.4" lengthAdjust="spacingAndGlyphs">OD</text>
<path d="M308.05 445.84L335.1 445.84L362.15 446.24L389.2 444.65L416.25 442.26L443.3 435.11" stroke="#4a7ebb" stroke-width="1.5" fill="none" stroke-linejoin="round"/>
<path d="M308.05 442.34L311.55 445.84L308.05 449.34L304.55 445.84Z" fill="#4f81bd"/>
<path d="M335.1 442.34L338.6 445.84L335.1 449.34L331.6 445.84Z" fill="#4f81bd"/>
<path d="M362.15 442.74L365.65 446.24L362.15 449.74L358.65 446.24Z" fill="#4f81bd"/>
<path d="M389.2 441.15L392.7 444.65L389.2 448.15L385.7 444.65Z" fill="#4f81bd"/>
<path d="M416.25 438.76L419.75 442.26L416.25 445.76L412.75 442.26Z" fill="#4f81bd"/>
<path d="M443.3 431.61L446.8 435.11L443.3 438.61L439.8 435.11Z" fill="#4f81bd"/>
<path d="M308.05 446.24L335.1 445.84L362.15 446.24L389.2 444.25L416.25 440.67L443.3 431.13" stroke="#be4b48" stroke-width="1.5" fill="none" stroke-linejoin="round"/>
<rect x="304.9" y="443.09" width="6.3" height="6.3" fill="#c0504d"/>
<rect x="331.95" y="442.69" width="6.3" height="6.3" fill="#c0504d"/>
<rect x="359" y="443.09" width="6.3" height="6.3" fill="#c0504d"/>
<rect x="386.05" y="441.1" width="6.3" height="6.3" fill="#c0504d"/>
<rect x="413.1" y="437.52" width="6.3" height="6.3" fill="#c0504d"/>
<rect x="440.15" y="427.98" width="6.3" height="6.3" fill="#c0504d"/>
<path d="M308.05 445.84L335.1 445.84L362.15 445.84L389.2 445.04L416.25 439.88L443.3 385.81" stroke="#98b954" stroke-width="1.5" fill="none" stroke-linejoin="round"/>
<path d="M308.05 442.34L311.55 448.64L304.55 448.64Z" fill="#9bbb59"/>
<path d="M335.1 442.34L338.6 448.64L331.6 448.64Z" fill="#9bbb59"/>
<path d="M362.15 442.34L365.65 448.64L358.65 448.64Z" fill="#9bbb59"/>
<path d="M389.2 441.54L392.7 447.84L385.7 447.84Z" fill="#9bbb59"/>
<path d="M416.25 436.38L419.75 442.68L412.75 442.68Z" fill="#9bbb59"/>
<path d="M443.3 382.31L446.8 388.62L439.8 388.62Z" fill="#9bbb59"/>
<path d="M308.05 445.44L335.1 445.44L362.15 445.84L389.2 443.85L416.25 439.88L443.3 419.21" stroke="#7d60a0" stroke-width="1.5" fill="none" stroke-linejoin="round"/>
<path d="M305.07 442.46L311.02 448.42M311.02 442.46L305.07 448.42" stroke="#8064a2" stroke-width="0.9" fill="none"/>
<path d="M332.12 442.46L338.07 448.42M338.07 442.46L332.12 448.42" stroke="#8064a2" stroke-width="0.9" fill="none"/>
<path d="M359.17 442.86L365.12 448.81M365.12 442.86L359.17 448.81" stroke="#8064a2" stroke-width="0.9" fill="none"/>
<path d="M386.22 440.88L392.17 446.83M392.17 440.88L386.22 446.83" stroke="#8064a2" stroke-width="0.9" fill="none"/>
<path d="M413.27 436.9L419.22 442.85M419.22 436.9L413.27 442.85" stroke="#8064a2" stroke-width="0.9" fill="none"/>
<path d="M440.32 416.23L446.28 422.18M446.28 416.23L440.32 422.18" stroke="#8064a2" stroke-width="0.9" fill="none"/>
<path d="M308.05 446.24L335.1 446.24L362.15 446.24L389.2 445.44L416.25 443.06L443.3 437.09" stroke="#46aac5" stroke-width="1.5" fill="none" stroke-linejoin="round"/>
<path d="M305.07 443.26L311.02 449.21M311.02 443.26L305.07 449.21M308.05 442.74L308.05 449.74" stroke="#4bacc6" stroke-width="0.9" fill="none"/>
<path d="M332.12 443.26L338.07 449.21M338.07 443.26L332.12 449.21M335.1 442.74L335.1 449.74" stroke="#4bacc6" stroke-width="0.9" fill="none"/>
<path d="M359.17 443.26L365.12 449.21M365.12 443.26L359.17 449.21M362.15 442.74L362.15 449.74" stroke="#4bacc6" stroke-width="0.9" fill="none"/>
<path d="M386.22 442.46L392.17 448.42M392.17 442.46L386.22 448.42M389.2 441.94L389.2 448.94" stroke="#4bacc6" stroke-width="0.9" fill="none"/>
<path d="M413.27 440.08L419.22 446.03M419.22 440.08L413.27 446.03M416.25 439.56L416.25 446.56" stroke="#4bacc6" stroke-width="0.9" fill="none"/>
<path d="M440.32 434.12L446.28 440.07M446.28 434.12L440.32 440.07M443.3 433.59L443.3 440.59" stroke="#4bacc6" stroke-width="0.9" fill="none"/>
<path d="M449.5 371.1H474.3" stroke="#4a7ebb" stroke-width="1.3" fill="none"/>
<path d="M462 368.35L464.75 371.1L462 373.85L459.25 371.1Z" fill="#4f81bd"/>
<text x="477.2" y="373.6" class="leg" textLength="40.9" lengthAdjust="spacingAndGlyphs">CLL mAb 169</text>
<path d="M449.5 389.38H474.3" stroke="#be4b48" stroke-width="1.3" fill="none"/>
<rect x="459.52" y="386.9" width="4.95" height="4.95" fill="#c0504d"/>
<text x="477.2" y="391.88" class="leg" textLength="40.9" lengthAdjust="spacingAndGlyphs">CLL mAb 068</text>
<path d="M449.5 407.66H474.3" stroke="#98b954" stroke-width="1.3" fill="none"/>
<path d="M462 404.91L464.75 409.86L459.25 409.86Z" fill="#9bbb59"/>
<text x="477.2" y="410.16" class="leg" textLength="40.9" lengthAdjust="spacingAndGlyphs">CLL mAb 183</text>
<path d="M449.5 425.94H474.3" stroke="#7d60a0" stroke-width="1.3" fill="none"/>
<path d="M459.66 423.6L464.34 428.28M464.34 423.6L459.66 428.28" stroke="#8064a2" stroke-width="0.6" fill="none"/>
<text x="477.2" y="428.44" class="leg" textLength="40.9" lengthAdjust="spacingAndGlyphs">CLL mAb 114</text>
<path d="M449.5 444.22H474.3" stroke="#46aac5" stroke-width="1.3" fill="none"/>
<path d="M459.66 441.88L464.34 446.56M464.34 441.88L459.66 446.56M462 441.47L462 446.97" stroke="#4bacc6" stroke-width="0.6" fill="none"/>
<text x="477.2" y="446.72" class="leg" textLength="40.9" lengthAdjust="spacingAndGlyphs">CLL mAb 412</text>
<text x="272.8" y="521.3" class="let">H</text>
<text x="355" y="519.4" class="ttl" textLength="73" lengthAdjust="spacingAndGlyphs">peptide 412-9 scr</text>
<path d="M298 618.5H442.5M298 603.5H442.5M298 587.5H442.5M298 571.5H442.5M298 555.5H442.5M298 539.5H442.5" stroke="#b8b5b5" stroke-width="1" fill="none"/>
<path d="M302.5 531.56V621.9M302 618.5H442.5" stroke="#a0a0a0" stroke-width="1" fill="none"/>
<path d="M339.5 618.9V621.9M377.5 618.9V621.9M415.5 618.9V621.9" stroke="#a0a0a0" stroke-width="1" fill="none"/>
<text x="291.8" y="621.7" class="tick" text-anchor="end">0.0</text>
<text x="291.8" y="605.82" class="tick" text-anchor="end">0.4</text>
<text x="291.8" y="589.94" class="tick" text-anchor="end">0.8</text>
<text x="291.8" y="574.06" class="tick" text-anchor="end">1.2</text>
<text x="291.8" y="558.18" class="tick" text-anchor="end">1.6</text>
<text x="291.8" y="542.3" class="tick" text-anchor="end">2.0</text>
<text x="302" y="636.9" class="tick" text-anchor="middle">0.01</text>
<text x="339.98" y="636.9" class="tick" text-anchor="middle">0.1</text>
<text x="377.97" y="636.9" class="tick" text-anchor="middle">1</text>
<text x="415.95" y="636.9" class="tick" text-anchor="middle">10</text>
<text x="355" y="644.8" class="xt" text-anchor="middle" textLength="60" lengthAdjust="spacingAndGlyphs">[CLL mAb (ug/mL)]</text>
<text transform="translate(280.1 574.2) rotate(-90)" class="od" text-anchor="middle" textLength="10.4" lengthAdjust="spacingAndGlyphs">OD</text>
<path d="M309.75 614.14L336.3 614.14L362.85 614.14L389.4 613.34L415.95 610.17L442.5 603.02" stroke="#4a7ebb" stroke-width="1.5" fill="none" stroke-linejoin="round"/>
<path d="M309.75 610.64L313.25 614.14L309.75 617.64L306.25 614.14Z" fill="#4f81bd"/>
<path d="M336.3 610.64L339.8 614.14L336.3 617.64L332.8 614.14Z" fill="#4f81bd"/>
<path d="M362.85 610.64L366.35 614.14L362.85 617.64L359.35 614.14Z" fill="#4f81bd"/>
<path d="M389.4 609.84L392.9 613.34L389.4 616.84L385.9 613.34Z" fill="#4f81bd"/>
<path d="M415.95 606.67L419.45 610.17L415.95 613.67L412.45 610.17Z" fill="#4f81bd"/>
<path d="M442.5 599.52L446 603.02L442.5 606.52L439 603.02Z" fill="#4f81bd"/>
<path d="M309.75 613.74L336.3 614.14L362.85 614.14L389.4 614.14L415.95 614.93L442.5 601.03" stroke="#be4b48" stroke-width="1.5" fill="none" stroke-linejoin="round"/>
<rect x="306.6" y="610.59" width="6.3" height="6.3" fill="#c0504d"/>
<rect x="333.15" y="610.99" width="6.3" height="6.3" fill="#c0504d"/>
<rect x="359.7" y="610.99" width="6.3" height="6.3" fill="#c0504d"/>
<rect x="386.25" y="610.99" width="6.3" height="6.3" fill="#c0504d"/>
<rect x="412.8" y="611.78" width="6.3" height="6.3" fill="#c0504d"/>
<rect x="439.35" y="597.88" width="6.3" height="6.3" fill="#c0504d"/>
<path d="M309.75 615.72L336.3 614.14L362.85 614.53L389.4 615.33L415.95 610.17L442.5 599.45" stroke="#98b954" stroke-width="1.5" fill="none" stroke-linejoin="round"/>
<path d="M309.75 612.22L313.25 618.52L306.25 618.52Z" fill="#9bbb59"/>
<path d="M336.3 610.64L339.8 616.94L332.8 616.94Z" fill="#9bbb59"/>
<path d="M362.85 611.03L366.35 617.33L359.35 617.33Z" fill="#9bbb59"/>
<path d="M389.4 611.83L392.9 618.13L385.9 618.13Z" fill="#9bbb59"/>
<path d="M415.95 606.67L419.45 612.97L412.45 612.97Z" fill="#9bbb59"/>
<path d="M442.5 595.95L446 602.25L439 602.25Z" fill="#9bbb59"/>
<path d="M309.75 613.74L336.3 613.74L362.85 614.14L389.4 612.55L415.95 606.99L442.5 585.55" stroke="#7d60a0" stroke-width="1.5" fill="none" stroke-linejoin="round"/>
<path d="M306.78 610.76L312.73 616.71M312.73 610.76L306.78 616.71" stroke="#8064a2" stroke-width="0.9" fill="none"/>
<path d="M333.33 610.76L339.28 616.71M339.28 610.76L333.33 616.71" stroke="#8064a2" stroke-width="0.9" fill="none"/>
<path d="M359.88 611.16L365.83 617.11M365.83 611.16L359.88 617.11" stroke="#8064a2" stroke-width="0.9" fill="none"/>
<path d="M386.43 609.57L392.38 615.52M392.38 609.57L386.43 615.52" stroke="#8064a2" stroke-width="0.9" fill="none"/>
<path d="M412.98 604.01L418.93 609.97M418.93 604.01L412.98 609.97" stroke="#8064a2" stroke-width="0.9" fill="none"/>
<path d="M439.52 582.58L445.48 588.53M445.48 582.58L439.52 588.53" stroke="#8064a2" stroke-width="0.9" fill="none"/>
<path d="M309.75 614.53L336.3 614.14L362.85 613.74L389.4 608.98L415.95 608.58L442.5 605" stroke="#46aac5" stroke-width="1.5" fill="none" stroke-linejoin="round"/>
<path d="M306.78 611.56L312.73 617.51M312.73 611.56L306.78 617.51M309.75 611.03L309.75 618.03" stroke="#4bacc6" stroke-width="0.9" fill="none"/>
<path d="M333.33 611.16L339.28 617.11M339.28 611.16L333.33 617.11M336.3 610.64L336.3 617.64" stroke="#4bacc6" stroke-width="0.9" fill="none"/>
<path d="M359.88 610.76L365.83 616.71M365.83 610.76L359.88 616.71M362.85 610.24L362.85 617.24" stroke="#4bacc6" stroke-width="0.9" fill="none"/>
<path d="M386.43 606L392.38 611.95M392.38 606L386.43 611.95M389.4 605.48L389.4 612.48" stroke="#4bacc6" stroke-width="0.9" fill="none"/>
<path d="M412.98 605.6L418.93 611.55M418.93 605.6L412.98 611.55M415.95 605.08L415.95 612.08" stroke="#4bacc6" stroke-width="0.9" fill="none"/>
<path d="M439.52 602.03L445.48 607.98M445.48 602.03L439.52 607.98M442.5 601.5L442.5 608.5" stroke="#4bacc6" stroke-width="0.9" fill="none"/>
<path d="M448 538.8H473.1" stroke="#4a7ebb" stroke-width="1.3" fill="none"/>
<path d="M460.5 536.05L463.25 538.8L460.5 541.55L457.75 538.8Z" fill="#4f81bd"/>
<text x="475.8" y="541.3" class="leg" textLength="41.1" lengthAdjust="spacingAndGlyphs">CLL mAb 169</text>
<path d="M448 556.88H473.1" stroke="#be4b48" stroke-width="1.3" fill="none"/>
<rect x="458.02" y="554.4" width="4.95" height="4.95" fill="#c0504d"/>
<text x="475.8" y="559.38" class="leg" textLength="41.1" lengthAdjust="spacingAndGlyphs">CLL mAb 068</text>
<path d="M448 574.96H473.1" stroke="#98b954" stroke-width="1.3" fill="none"/>
<path d="M460.5 572.21L463.25 577.16L457.75 577.16Z" fill="#9bbb59"/>
<text x="475.8" y="577.46" class="leg" textLength="41.1" lengthAdjust="spacingAndGlyphs">CLL mAb 183</text>
<path d="M448 593.04H473.1" stroke="#7d60a0" stroke-width="1.3" fill="none"/>
<path d="M458.16 590.7L462.84 595.38M462.84 590.7L458.16 595.38" stroke="#8064a2" stroke-width="0.6" fill="none"/>
<text x="475.8" y="595.54" class="leg" textLength="41.1" lengthAdjust="spacingAndGlyphs">CLL mAb 114</text>
<path d="M448 611.12H473.1" stroke="#46aac5" stroke-width="1.3" fill="none"/>
<path d="M458.16 608.78L462.84 613.46M462.84 608.78L458.16 613.46M460.5 608.37L460.5 613.87" stroke="#4bacc6" stroke-width="0.6" fill="none"/>
<text x="475.8" y="613.62" class="leg" textLength="41.1" lengthAdjust="spacingAndGlyphs">CLL mAb 412</text>
</svg>
</body></html>
